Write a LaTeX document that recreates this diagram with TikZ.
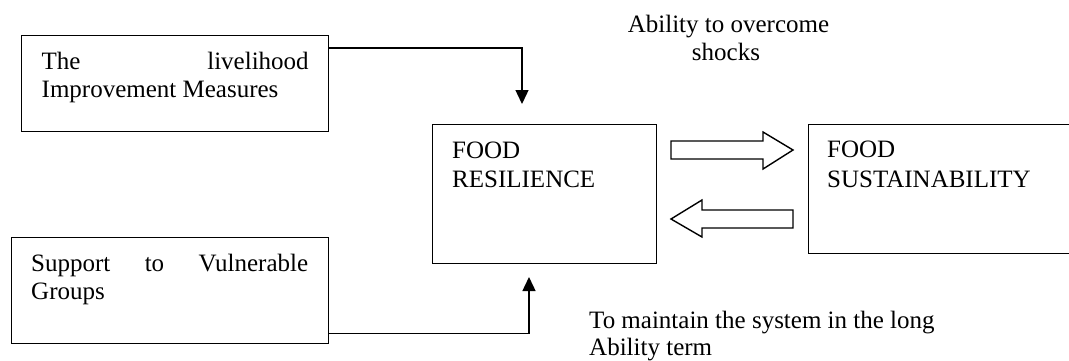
\documentclass[tikz,border=0pt]{standalone}
\usepackage{fontspec}
\setmainfont{Liberation Serif}
\usetikzlibrary{arrows.meta}
\begin{document}
\begin{tikzpicture}[x=1pt,y=-1pt,
  box/.style={draw, line width=1.4pt, anchor=north west, inner sep=0pt},
  txt/.style={anchor=base west, inner sep=0pt, font=\fontsize{25}{28}\selectfont},
  ctxt/.style={anchor=base, inner sep=0pt, font=\fontsize{25}{28}\selectfont},
  conn/.style={line width=1.4pt, -{Triangle[width=13pt,length=14pt]}},
  blockarrow/.style={draw, line width=1.4pt, fill=white, line join=miter}]
\clip (0,0) rectangle (1069,360);
% boxes
\node[box, minimum width=307pt, minimum height=96pt] (b1) at (21,35) {};
\node[box, minimum width=317pt, minimum height=106pt] (b2) at (11,237) {};
\node[box, minimum width=224pt, minimum height=139pt] (res) at (432,124) {};
\node[box, minimum width=300pt, minimum height=129pt] (sus) at (808,124) {};
% box texts
\node[txt] (b1l1) at (41.5,69) {\makebox[267pt][s]{The\hfill livelihood}};
\node[txt] (b1l2) at (41.5,97) {Improvement Measures};
\node[txt] (b2l1) at (31,271) {\makebox[277pt][s]{Support\hfill to\hfill Vulnerable}};
\node[txt] (b2l2) at (31,299) {Groups};
\node[txt] (resl1) at (452,158) {FOOD};
\node[txt] (resl2) at (452,187) {RESILIENCE};
\node[txt] (susl1) at (827,157) {FOOD};
\node[txt] (susl2) at (827,187) {SUSTAINABILITY};
% free labels
\node[ctxt] (top1) at (728.5,32) {Ability to overcome};
\node[ctxt] (top2) at (726,60) {shocks};
\node[txt] (bot1) at (589,328) {To maintain the system in the long};
\node[txt] (bot2) at (589,355) {Ability term};
% connectors
\coordinate (d1) at (522,104);
\coordinate (u1) at (529,277);
\draw[conn] ([yshift=-13pt]b1.north east) -| (d1);
\draw[conn] ([yshift=11pt]b2.south east) -| (u1);
% block arrows
\draw[blockarrow] (671,141) -- (763,141) -- (763,132) -- (793,150) -- (763,169) -- (763,159) -- (671,159) -- cycle;
\draw[blockarrow] (793,210) -- (702,210) -- (702,200) -- (671,219) -- (702,237) -- (702,228) -- (793,228) -- cycle;
\end{tikzpicture}
\end{document}
